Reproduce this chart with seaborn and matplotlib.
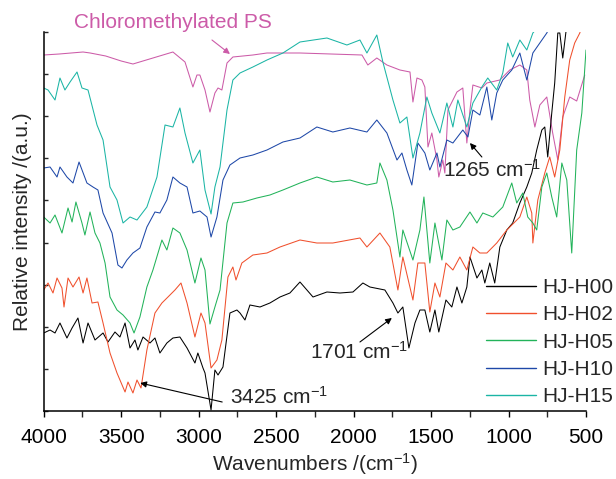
import numpy as np
import pandas as pd
import matplotlib
matplotlib.use("Agg")
import matplotlib.pyplot as plt
from matplotlib.lines import Line2D
import seaborn as sns

sns.set_theme(style="ticks")
plt.rcParams['font.family'] = ['Liberation Sans', 'DejaVu Sans']
plt.rcParams['mathtext.fontset'] = 'custom'
plt.rcParams['mathtext.rm'] = 'Liberation Sans'
plt.rcParams['mathtext.it'] = 'Liberation Sans'

# ---- data (wavenumber in cm^-1, relative intensity in a.u.) ----
ps_wn = [4000, 3900, 3746, 3700, 3600, 3500, 3424, 3166, 3088, 3037, 3011, 2992, 2959, 2927, 2895, 2875, 2850,
         2817, 2779, 2650, 2559, 2346, 1946, 1908, 1850, 1785, 1701, 1636, 1617, 1591, 1559, 1540, 1520, 1495,
         1462, 1450, 1424, 1411, 1391, 1333, 1295, 1269, 1249, 1230, 1172, 1140, 1056, 992, 927, 882, 863, 830,
         798, 753, 715, 682, 650, 605, 560, 508]
ps_int = [356, 357, 359, 358, 355, 350, 347, 359, 349, 324, 336, 336, 321, 299, 318, 323, 321,
          348, 354, 356, 358, 358, 356, 346, 353, 346, 341, 339, 309, 333, 331, 324, 264, 278,
          251, 234, 251, 238, 301, 319, 323, 268, 301, 326, 323, 328, 331, 341, 346, 341, 311, 284,
          306, 314, 278, 251, 294, 314, 310, 336]

h15_wn = [4000, 3972, 3927, 3895, 3863, 3830, 3785, 3753, 3714, 3656, 3617, 3572, 3527, 3488, 3443, 3398, 3334,
          3269, 3217, 3166, 3121, 3088, 3037, 2992, 2959, 2920, 2895, 2862, 2817, 2779, 2733, 2650, 2559, 2456,
          2346, 2172, 2043, 1959, 1914, 1850, 1811, 1746, 1701, 1656, 1617, 1572, 1527, 1495, 1443, 1398, 1359,
          1327, 1269, 1230, 1172, 1134, 1076, 1037, 1005, 973, 927, 882, 843, 798, 700, 500]
h15_int = [323, 321, 311, 333, 321, 329, 339, 323, 321, 286, 271, 224, 211, 188, 194, 191, 204,
           234, 286, 284, 303, 278, 248, 261, 221, 197, 224, 244, 301, 331, 338, 344, 351, 358,
           369, 373, 366, 371, 358, 376, 349, 311, 288, 294, 253, 278, 314, 298, 278, 308, 284,
           311, 284, 308, 324, 333, 321, 338, 368, 354, 371, 361, 378, 386, 420, 440]

h10_wn = [4000, 3959, 3914, 3895, 3850, 3811, 3772, 3721, 3682, 3650, 3617, 3559, 3521, 3495, 3463, 3424, 3379,
          3334, 3282, 3250, 3205, 3166, 3121, 3075, 3037, 2992, 2946, 2920, 2882, 2843, 2798, 2733, 2650, 2559,
          2456, 2346, 2237, 2134, 2024, 1914, 1850, 1785, 1720, 1688, 1656, 1624, 1585, 1540, 1508, 1462, 1443,
          1398, 1359, 1295, 1262, 1230, 1185, 1140, 1108, 1076, 1037, 979, 927, 882, 843, 798, 753, 650, 500]
h10_int = [243, 244, 234, 244, 234, 228, 249, 228, 224, 221, 198, 178, 146, 143, 151, 158, 163,
           184, 199, 198, 211, 234, 228, 224, 198, 200, 194, 174, 194, 231, 246, 253, 256, 261,
           269, 273, 284, 279, 283, 279, 291, 278, 251, 258, 241, 226, 268, 258, 241, 258, 244,
           271, 268, 281, 274, 301, 296, 324, 291, 318, 331, 341, 358, 331, 358, 368, 378, 410, 440]

h05_wn = [4000, 3959, 3927, 3882, 3843, 3817, 3792, 3753, 3734, 3701, 3669, 3637, 3604, 3572, 3527, 3488, 3443,
          3417, 3379, 3334, 3295, 3237, 3205, 3166, 3121, 3075, 3024, 2985, 2959, 2927, 2895, 2862, 2817, 2779,
          2714, 2624, 2540, 2456, 2346, 2237, 2134, 2024, 1914, 1850, 1830, 1785, 1746, 1701, 1682, 1617, 1572,
          1546, 1508, 1475, 1430, 1398, 1359, 1314, 1249, 1204, 1166, 1101, 1037, 979, 947, 908, 876, 843, 818,
          785, 753, 721, 689, 656, 624, 592, 560, 527, 500]
h05_int = [194, 188, 196, 178, 203, 189, 209, 188, 176, 199, 178, 168, 148, 114, 101, 96, 88,
           78, 94, 124, 141, 171, 161, 183, 178, 161, 128, 153, 141, 87, 104, 121, 188, 208,
           209, 213, 216, 221, 228, 234, 229, 231, 226, 228, 248, 231, 201, 154, 181, 151, 181,
           214, 148, 188, 151, 191, 181, 184, 199, 188, 198, 194, 204, 228, 208, 218, 194, 188, 181,
           224, 238, 214, 194, 248, 231, 158, 261, 298, 361]

h02_wn = [4000, 3972, 3940, 3914, 3882, 3869, 3843, 3811, 3772, 3746, 3721, 3688, 3650, 3617, 3572, 3527, 3475,
          3456, 3424, 3398, 3372, 3334, 3282, 3237, 3198, 3153, 3114, 3075, 3024, 2985, 2959, 2920, 2882, 2850,
          2811, 2779, 2759, 2721, 2650, 2559, 2475, 2346, 2237, 2134, 1959, 1914, 1830, 1766, 1714, 1682, 1617,
          1585, 1540, 1508, 1475, 1443, 1404, 1359, 1314, 1269, 1230, 1185, 1140, 1076, 1011, 927, 882, 850, 843,
          811, 766, 734, 702, 669, 637, 605, 573, 540, 500]
h02_int = [121, 128, 118, 133, 123, 104, 133, 124, 134, 118, 133, 108, 109, 88, 58, 38, 19,
           29, 18, 31, 23, 61, 98, 108, 114, 121, 128, 108, 74, 98, 88, 43, 51, 71,
           134, 144, 131, 148, 156, 158, 164, 171, 168, 168, 173, 164, 178, 164, 121, 154, 111,
           148, 148, 99, 128, 114, 148, 141, 154, 141, 164, 158, 158, 168, 181, 194, 214, 198, 168,
           211, 238, 254, 234, 261, 314, 351, 368, 378, 400]

h00_wn = [4000, 3959, 3927, 3895, 3850, 3817, 3779, 3746, 3714, 3669, 3617, 3585, 3540, 3508, 3475, 3443, 3411,
          3392, 3359, 3314, 3282, 3250, 3205, 3166, 3121, 3075, 3024, 3005, 2972, 2959, 2920, 2895, 2875, 2843,
          2798, 2753, 2733, 2701, 2669, 2604, 2540, 2475, 2411, 2346, 2262, 2172, 2088, 2004, 1940, 1895, 1798,
          1746, 1714, 1682, 1643, 1604, 1572, 1540, 1508, 1475, 1450, 1404, 1366, 1333, 1301, 1269, 1249, 1204,
          1172, 1153, 1121, 1089, 1056, 1011, 973, 927, 882, 850, 818, 785, 766, 747, 721, 702, 682, 669, 650,
          624, 500]
h00_int = [78, 81, 78, 88, 73, 83, 93, 68, 88, 71, 78, 69, 79, 74, 88, 63, 71,
           61, 74, 68, 73, 58, 68, 73, 74, 63, 48, 58, 43, 38, 1, 41, 36, 44,
           98, 101, 98, 91, 106, 104, 108, 114, 118, 129, 114, 119, 118, 119, 128, 124, 121,
           108, 98, 104, 63, 88, 101, 101, 79, 101, 79, 111, 104, 124, 108, 124, 154, 133,
           141, 128, 148, 128, 164, 181, 188, 208, 224, 238, 261, 281, 284, 254, 298, 328, 378, 378, 353,
           386, 440]

samples = ["HJ-H00", "HJ-H02", "HJ-H05", "HJ-H10", "HJ-H15"]
colors = {"HJ-H00": "#000000", "HJ-H02": "#F0502D", "HJ-H05": "#22B35A",
          "HJ-H10": "#1E48A8", "HJ-H15": "#1BB5A5"}
ps_color = "#CC5BA8"

series = {"HJ-H00": (h00_wn, h00_int), "HJ-H02": (h02_wn, h02_int), "HJ-H05": (h05_wn, h05_int),
          "HJ-H10": (h10_wn, h10_int), "HJ-H15": (h15_wn, h15_int)}
df = pd.concat([pd.DataFrame({"wn": w, "I": i, "sample": s}) for s, (w, i) in series.items()],
               ignore_index=True)
df_ps = pd.DataFrame({"wn": ps_wn, "I": ps_int})

fig = plt.figure(figsize=(6.16, 4.79), dpi=100)
ax = fig.add_axes([43.7 / 616, 1 - 411 / 479, 542.3 / 616, 379 / 479])

sns.lineplot(data=df_ps, x="wn", y="I", color=ps_color, lw=0.75, ax=ax, estimator=None, legend=False)
sns.lineplot(data=df, x="wn", y="I", hue="sample", hue_order=samples, palette=colors,
             lw=0.75, ax=ax, estimator=None, legend=False)

ax.set_xlim(4000, 500)
ax.set_ylim(0, 379)
ax.set_xticks([4000, 3500, 3000, 2500, 2000, 1500, 1000, 500])
ax.set_xticks(np.arange(750, 4000, 500), minor=True)
ax.set_yticks(np.linspace(0, 379, 10))
ax.set_yticklabels([])
ax.tick_params(axis='x', which='major', direction='out', length=4, width=1, labelsize=15, pad=8, colors='black')
ax.tick_params(axis='x', which='minor', direction='out', length=4, width=1)
ax.tick_params(axis='y', direction='in', length=3, width=1)
for side in ['top', 'right']:
    ax.spines[side].set_visible(False)
for side in ['left', 'bottom']:
    ax.spines[side].set_linewidth(1.1)
    ax.spines[side].set_color('black')

ax.set_xlabel(r'Wavenumbers /(cm$^{-1}$)', fontsize=15, va='baseline')
ax.set_ylabel('Relative intensity /(a.u.)', fontsize=15)
ax.xaxis.set_label_coords(0.5, -0.158)
ax.yaxis.set_label_coords(-0.022, 0.5)

arrow = dict(arrowstyle='-|>', color='black', lw=0.8, mutation_scale=9, shrinkA=0, shrinkB=0)
ax.annotate('', xy=(3377, 28), xytext=(2848, 9), arrowprops=arrow, annotation_clip=False)
ax.text(2797, 14, r'3425 cm$^{-1}$', fontsize=15, ha='left', va='center')
ax.annotate('', xy=(1753, 93), xytext=(1959, 69), arrowprops=arrow)
ax.text(2282, 59, r'1701 cm$^{-1}$', fontsize=15, ha='left', va='center')
ax.annotate('', xy=(1249, 268), xytext=(1172, 254), arrowprops=arrow)
ax.text(1423, 241, r'1265 cm$^{-1}$', fontsize=15, ha='left', va='center')
ax.annotate('', xy=(2798, 357), xytext=(2914, 371),
            arrowprops=dict(arrowstyle='-|>', color=ps_color, lw=0.8, mutation_scale=9, shrinkA=0, shrinkB=0),
            annotation_clip=False)
ax.text(3165, 388, 'Chloromethylated PS', fontsize=15, color=ps_color, ha='center', va='center', clip_on=False)

handles = [Line2D([0], [0], color=colors[s], lw=1.0) for s in samples]
fig.legend(handles, samples, loc='upper left', bbox_to_anchor=(486 / 616, 1 - 278 / 479),
           frameon=False, fontsize=15, handlelength=2.4, handletextpad=0.3, labelspacing=0.4,
           borderpad=0, borderaxespad=0)

fig.savefig("out.png", dpi=100)
